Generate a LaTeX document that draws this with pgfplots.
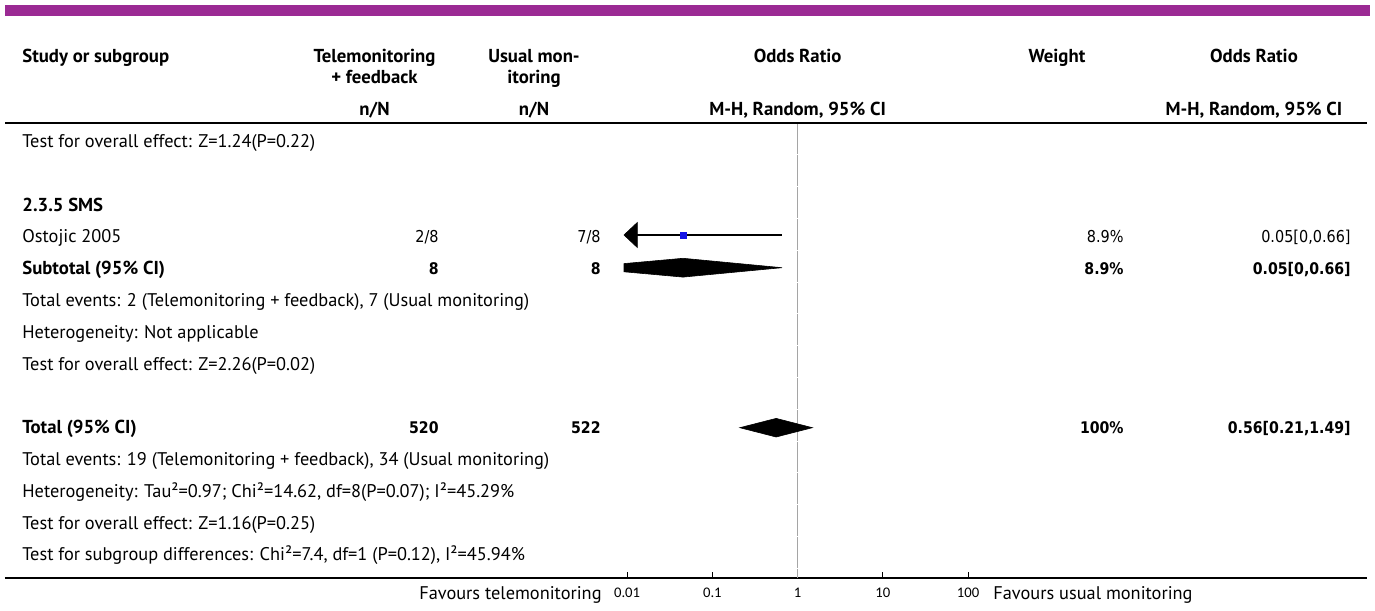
\documentclass[border=0pt]{standalone}
\usepackage{fontspec}
\setmainfont{PT Sans}
\newfontfamily\numfont[FakeStretch=0.88]{DejaVu Sans}
\newfontfamily\tickfam{Carlito}
\usepackage{pgfplots}
\pgfplotsset{compat=1.18}
\definecolor{cochrane}{RGB}{155,42,148}
\definecolor{nullline}{RGB}{165,165,165}
\definecolor{sqblue}{RGB}{20,20,230}

\newlength\tmpw
\newcommand\calib[4]{%
  \settowidth\tmpw{#2\fontsize{10pt}{12pt}\selectfont #3}%
  \pgfmathsetmacro#1{10*#4/\tmpw}}

\begin{document}
\calib\mainsz{\rmfamily}{Total events: 2 (Telemonitoring + feedback), 7 (Usual m}{215}%
\calib\boldsz{\bfseries}{Subtotal (95\% CI)}{71.3}%
\calib\numsz{\numfont}{0.05[0,0.66]}{44.65}%
\calib\numbsz{\numfont\bfseries}{0.56[0.21,1.49]}{61.35}%
\calib\ticksz{\tickfam}{0.01}{13}%
\def\T{\fontsize{\mainsz pt}{\mainsz pt}\selectfont}%
\def\B{\bfseries\fontsize{\boldsz pt}{\boldsz pt}\selectfont}%
\def\N{\numfont\fontsize{\numsz pt}{\numsz pt}\selectfont}%
\def\NB{\numfont\bfseries\fontsize{\numbsz pt}{\numbsz pt}\selectfont}%
\def\TK{\tickfam\fontsize{\ticksz pt}{\ticksz pt}\selectfont}%
\begin{tikzpicture}[x=0.5pt,y=0.5pt]
\begin{axis}[
  name=ax,
  scale only axis, width=681pt, height=288.85pt,
  xmode=log, xmin=5.042e-10, xmax=4.776e6,
  ymin=32.3, ymax=610,
  axis x line*=bottom, axis y line=none,
  x axis line style={line width=1pt, black},
  xtick={0.01,0.1,1,10,100},
  xticklabels={0.01,0.1,1,10,100},
  xminorticks=false,
  tick align=inside,
  major tick length=3pt,
  major tick style={black, line width=0.6pt},
  xticklabel style={font=\TK, anchor=base, yshift=-9.7pt, inner sep=0pt},
  clip=false,
]
\coordinate (O) at (rel axis cs:0,0);
% line of no effect (small breaks at row boundaries)
\addplot[nullline, line width=0.75pt, dash pattern=on 15.4pt off 0.5pt, dash phase=10.95pt] coordinates {(1,32.3) (1,487.3)};
% Ostojic 2005: CI and arrow (lower limit beyond 0.01)
\addplot[black, line width=0.55pt] coordinates {(0.01317,375) (0.656,375)};
\addplot[fill=black, draw=black, line width=0.3pt] coordinates {(0.0092,375) (0.01317,387.5) (0.01317,362.5)} -- cycle;
\addplot[only marks, mark=square*, mark size=1.5pt, mark options={fill=sqblue, draw=sqblue}] coordinates {(0.0453,375)};
% Subtotal diamond (clipped at 0.01)
\addplot[fill=black, draw=black, line width=0.3pt] coordinates {(0.0092,346.4) (0.0453,351.7) (0.656,342.3) (0.0453,332.9) (0.0092,338.2)} -- cycle;
% Total diamond
\addplot[fill=black, draw=black, line width=0.3pt] coordinates {(0.21,182.3) (0.56,191.6) (1.49,182.3) (0.56,173.0)} -- cycle;
\end{axis}
\begin{scope}[shift={(O)}, xshift=-2.5pt, yshift=-16.15pt]
% top band
\fill[cochrane] (5,594.3) rectangle (1370,605);
\draw[line width=1pt] (5,487.3) -- (1367,487.3);
\begin{scope}[every node/.style={inner sep=0pt}]
\node[anchor=base west] at (22,547.5) {\B Study or subgroup};
\node[anchor=base] at (374.5,547.5) {\B Telemonitoring};
\node[anchor=base] at (374.5,526.5) {\B + feedback};
\node[anchor=base] at (374.5,494) {\B n/N};
\node[anchor=base] at (534,547.5) {\B Usual mon-};
\node[anchor=base] at (534,526.5) {\B itoring};
\node[anchor=base] at (534,494) {\B n/N};
\node[anchor=base] at (797.6,547.5) {\B Odds Ratio};
\node[anchor=base] at (797.6,494) {\B M-H, Random, 95\% CI};
\node[anchor=base] at (1057,547.5) {\B Weight};
\node[anchor=base] at (1254,547.5) {\B Odds Ratio};
\node[anchor=base] at (1254,494) {\B M-H, Random, 95\% CI};
% rows
\node[anchor=base west] at (22,462.3) {\T Test for overall effect: Z=1.24(P=0.22)};
\node[anchor=base west] at (22,398.7) {\B 2.3.5 SMS};
\node[anchor=base west] at (22,367.0) {\T Ostojic 2005};
\node[anchor=base east] at (439,367.0) {\N 2/8};
\node[anchor=base east] at (601,367.0) {\N 7/8};
\node[anchor=base east] at (1124,367.0) {\N 8.9\%};
\node[anchor=base east] at (1351,367.0) {\N 0.05[0,0.66]};
\node[anchor=base west] at (22,335.2) {\B Subtotal (95\% CI)};
\node[anchor=base east] at (439,335.2) {\NB 8};
\node[anchor=base east] at (601,335.2) {\NB 8};
\node[anchor=base east] at (1124,335.2) {\NB 8.9\%};
\node[anchor=base east] at (1351,335.2) {\NB 0.05[0,0.66]};
\node[anchor=base west] at (22,303.4) {\T Total events: 2 (Telemonitoring + feedback), 7 (Usual monitoring)};
\node[anchor=base west] at (22,271.6) {\T Heterogeneity: Not applicable};
\node[anchor=base west] at (22,239.8) {\T Test for overall effect: Z=2.26(P=0.02)};
\node[anchor=base west] at (22,176.2) {\B Total (95\% CI)};
\node[anchor=base east] at (439,176.2) {\NB 520};
\node[anchor=base east] at (601,176.2) {\NB 522};
\node[anchor=base east] at (1124,176.2) {\NB 100\%};
\node[anchor=base east] at (1351,176.2) {\NB 0.56[0.21,1.49]};
\node[anchor=base west] at (22,144.4) {\T Total events: 19 (Telemonitoring + feedback), 34 (Usual monitoring)};
\node[anchor=base west] at (22,112.6) {\T Heterogeneity: Tau²=0.97; Chi²=14.62, df=8(P=0.07); I²=45.29\%};
\node[anchor=base west] at (22,80.8) {\T Test for overall effect: Z=1.16(P=0.25)};
\node[anchor=base west] at (22,49.0) {\T Test for subgroup differences: Chi²=7.4, df=1 (P=0.12), I²=45.94\%};
\node[anchor=base east] at (602,10) {\T Favours telemonitoring};
\node[anchor=base west] at (993,10) {\T Favours usual monitoring};
\end{scope}
\pgfresetboundingbox
\path[use as bounding box] (0,0) rectangle (1375,610);
\end{scope}
\end{tikzpicture}
\end{document}
